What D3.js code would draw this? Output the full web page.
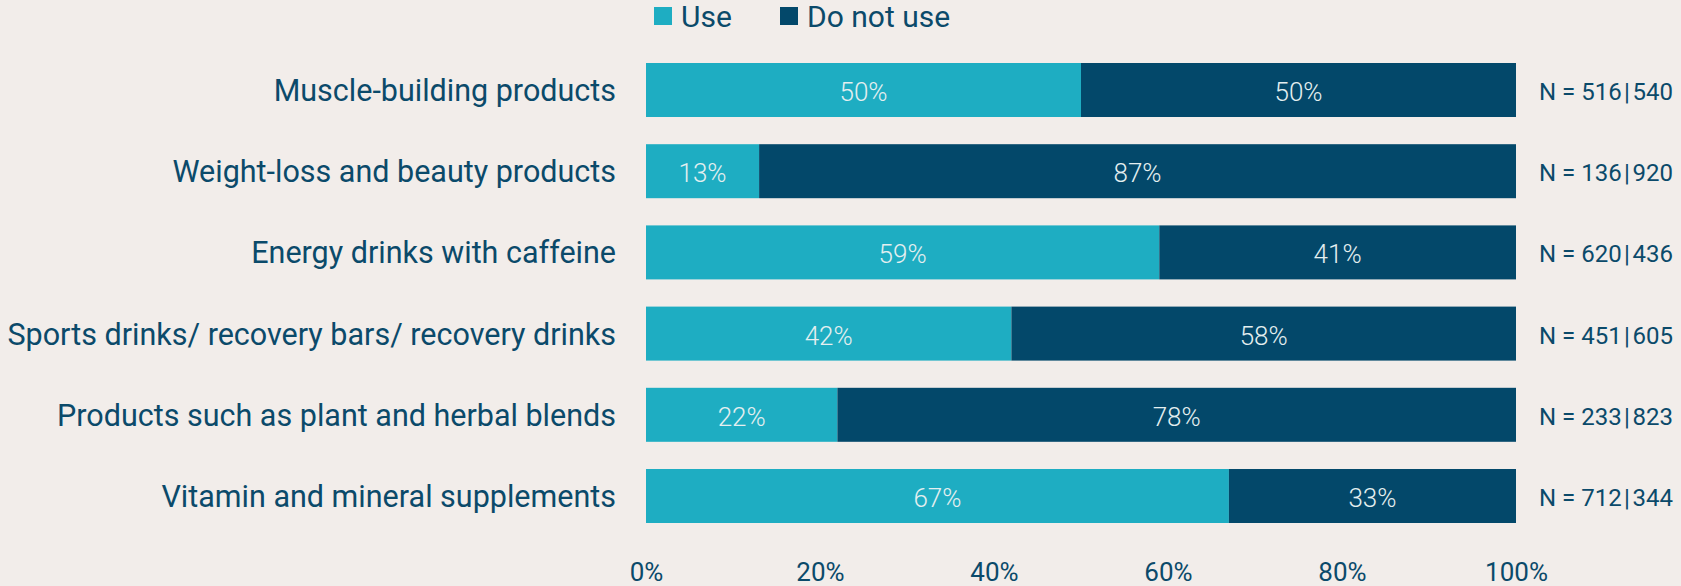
<!DOCTYPE html>
<html>
<head>
<meta charset="utf-8">
<script src="https://cdn.jsdelivr.net/npm/d3@7"></script>
<style>
  html, body { margin: 0; padding: 0; background: #f2edea; }
  svg { display: block; }
  text { font-family: Roboto, "Noto Sans", sans-serif; }
</style>
</head>
<body>
<svg id="chart" width="1681" height="586"></svg>
<script>
// Product categories, top to bottom
const categories = [
  "Muscle-building products",
  "Weight-loss and beauty products",
  "Energy drinks with caffeine",
  "Sports drinks/ recovery bars/ recovery drinks",
  "Products such as plant and herbal blends",
  "Vitamin and mineral supplements"
];
// Share of respondents (%)
const useShare   = [50, 13, 59, 42, 22, 67];
const noUseShare = [50, 87, 41, 58, 78, 33];
// Respondent counts: use | do not use
const nUse   = [516, 136, 620, 451, 233, 712];
const nNoUse = [540, 920, 436, 605, 823, 344];
// Axis ticks
const tickValues = [0, 20, 40, 60, 80, 100];
const seriesNames = ["Use", "Do not use"];

const colors = { use: "#1eadc2", noUse: "#03486a", text: "#0b4a6a", inner: "#e4eff0" };

const svg = d3.select("#chart");

const x = d3.scaleLinear().domain([0, 100]).range([646, 1516]);
const y = d3.scaleBand()
  .domain(categories)
  .range([49.4, 536.6])
  .paddingInner(0.335)
  .paddingOuter(0.1675);
const color = d3.scaleOrdinal().domain(seriesNames).range([colors.use, colors.noUse]);

const rows = categories.map((c, i) => ({
  category: c, use: useShare[i], noUse: noUseShare[i], nUse: nUse[i], nNoUse: nNoUse[i]
}));
const stack = d3.stack().keys(["use", "noUse"]);
const series = stack(rows);

// Stacked bars
const groups = svg.append("g").selectAll("g")
  .data(series)
  .join("g")
  .attr("fill", (d, i) => color(seriesNames[i]));

groups.selectAll("rect")
  .data(d => d)
  .join("rect")
  .attr("x", d => x(d[0]))
  .attr("y", d => y(d.data.category))
  .attr("width", d => x(d[1]) - x(d[0]))
  .attr("height", y.bandwidth());

// Percentage labels inside segments
groups.selectAll("text")
  .data(d => d)
  .join("text")
  .attr("x", d => (x(d[0]) + x(d[1])) / 2)
  .attr("y", d => y(d.data.category) + y.bandwidth() / 2 + 11)
  .attr("text-anchor", "middle")
  .attr("fill", colors.inner)
  .attr("font-size", 26)
  .attr("font-weight", 300)
  .text(d => (d[1] - d[0]) + "%");

// Category labels
const yAxis = svg.append("g")
  .attr("transform", `translate(${x(0) - 30},0)`)
  .call(d3.axisLeft(y).tickSize(0).tickPadding(0));
yAxis.select(".domain").remove();
yAxis.selectAll("text")
  .attr("font-size", 30.5)
  .attr("fill", colors.text)
  .attr("dy", "0.36em")
  .style("font-family", "Roboto, sans-serif");

// Sample sizes on the right
svg.append("g").selectAll("text")
  .data(rows)
  .join("text")
  .attr("x", x(100) + 23)
  .attr("y", d => y(d.category) + y.bandwidth() / 2 + 10)
  .attr("fill", colors.text)
  .attr("font-size", 24)
  .text(d => `N = ${d.nUse}\u200A|\u200A${d.nNoUse}`);

// Bottom axis
const xAxis = svg.append("g")
  .attr("transform", "translate(0,581)")
  .call(d3.axisBottom(x).tickValues(tickValues).tickFormat(d => d + "%").tickSize(0).tickPadding(0));
xAxis.select(".domain").remove();
xAxis.selectAll("text")
  .attr("font-size", 26)
  .attr("fill", colors.text)
  .attr("dy", 0)
  .style("font-family", "Roboto, sans-serif");

// Legend
const legendX = [654, 780];
const legend = svg.append("g").selectAll("g")
  .data(seriesNames)
  .join("g")
  .attr("transform", (d, i) => `translate(${legendX[i]},7)`);
legend.append("rect")
  .attr("width", 18).attr("height", 18)
  .attr("fill", d => color(d));
legend.append("text")
  .attr("x", 27).attr("y", 20)
  .attr("fill", colors.text)
  .attr("font-size", 30)
  .text(d => d);
</script>
</body>
</html>
